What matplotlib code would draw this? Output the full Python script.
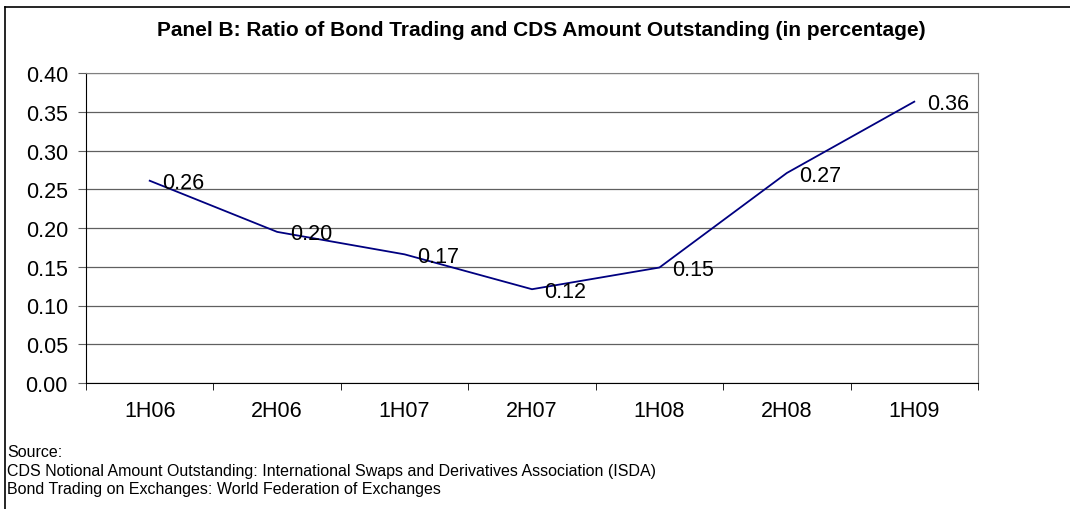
import matplotlib.pyplot as plt
from matplotlib.lines import Line2D

plt.rcParams['font.family'] = ['Liberation Sans', 'DejaVu Sans']

periods = ["1H06", "2H06", "1H07", "2H07", "1H08", "2H08", "1H09"]
ratio = [0.261, 0.195, 0.166, 0.121, 0.149, 0.271, 0.363]
labels = ["0.26", "0.20", "0.17", "0.12", "0.15", "0.27", "0.36"]
yticks = [0.0, 0.05, 0.10, 0.15, 0.20, 0.25, 0.30, 0.35, 0.40]
source_lines = [
    "Source:",
    "CDS Notional Amount Outstanding: International Swaps and Derivatives Association (ISDA)",
    "Bond Trading on Exchanges: World Federation of Exchanges",
]

fig = plt.figure(figsize=(10.7, 5.1), dpi=100)
ax = fig.add_axes([86 / 1070, 1 - 384 / 510, 892 / 1070, 310 / 510])

x = list(range(len(periods)))
ax.plot(x, ratio, color="#000080", lw=1.3, zorder=3)
for xi, yi, lab in zip(x, ratio, labels):
    ax.annotate(lab, (xi, yi), xytext=(9, -1.5), textcoords="offset points",
                fontsize=15.5, va="center", ha="left", zorder=4)

ax.set_xlim(-0.5, len(periods) - 0.5)
ax.set_ylim(0, 0.40)
ax.set_yticks(yticks)
ax.set_yticklabels([f"{v:.2f}" for v in yticks], fontsize=15.5)
ax.set_xticks(x)
ax.set_xticklabels(periods, fontsize=15.5)
ax.set_xticks([i - 0.5 for i in range(len(periods) + 1)], minor=True)
ax.tick_params(axis="x", which="major", length=0, pad=12)
ax.tick_params(axis="x", which="minor", length=5, direction="out", color="black")
ax.tick_params(axis="y", length=6, direction="out", pad=7, color="#606060")
ax.grid(axis="y", color="#606060", lw=0.9)
ax.set_axisbelow(True)
for s in ["top", "right"]:
    ax.spines[s].set_color("#808080")
ax.spines["left"].set_color("black")
ax.spines["bottom"].set_color("black")

fig.text(541 / 1070, 1 - 30 / 510,
         "Panel B: Ratio of Bond Trading and CDS Amount Outstanding (in percentage)",
         ha="center", va="center", fontsize=15, fontweight="bold")

for i, line in enumerate(source_lines):
    fig.text(7 / 1070, 1 - (453 + 18.5 * i) / 510, line, fontsize=11.5,
             ha="left", va="center")

# outer frame: only top and left edges are visible in the crop
fig.add_artist(Line2D([5 / 1070, 1], [1 - 8 / 510, 1 - 8 / 510],
                      transform=fig.transFigure, color="black", lw=1.2))
fig.add_artist(Line2D([5 / 1070, 5 / 1070], [0, 1 - 8 / 510],
                      transform=fig.transFigure, color="black", lw=1.2))

fig.savefig("out.png", dpi=100)
